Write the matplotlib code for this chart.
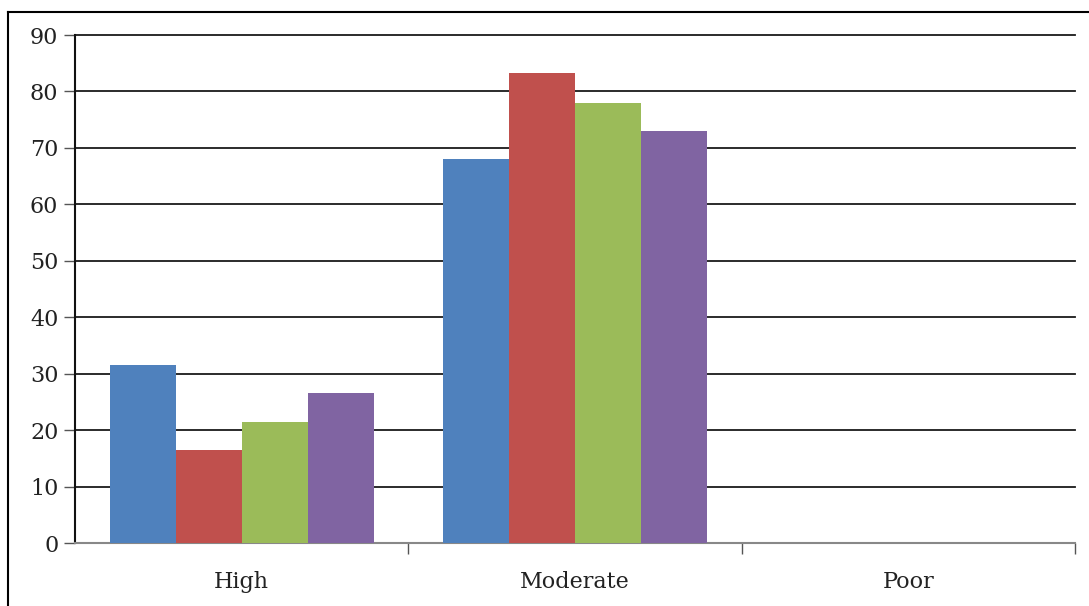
import numpy as np
import matplotlib.pyplot as plt
from matplotlib.lines import Line2D

categories = ['High', 'Moderate', 'Poor']
series_1 = [31.5, 68.0, 0]
series_2 = [16.5, 83.2, 0]
series_3 = [21.5, 78.0, 0]
series_4 = [26.5, 73.0, 0]
y_ticks = [0, 10, 20, 30, 40, 50, 60, 70, 80, 90]

colors = ['#4F81BD', '#C0504D', '#9BBB59', '#8064A2']

plt.rcParams['font.family'] = ['DejaVu Serif']

fig = plt.figure(figsize=(10.89, 6.06), dpi=100)
ax = fig.add_axes([75 / 1089, 1 - 543 / 606, 1000 / 1089, 508 / 606])

x = np.arange(len(categories))
width = 0.198
for i, vals in enumerate([series_1, series_2, series_3, series_4]):
    ax.bar(x + (i - 1.5) * width, vals, width, color=colors[i], zorder=3)

ax.set_xlim(-0.5, 2.5)
ax.set_ylim(0, 90)
ax.set_yticks(y_ticks)
ax.yaxis.grid(True, color='#1a1a1a', linewidth=1.3, zorder=0)
ax.set_axisbelow(True)
for gl in ax.get_ygridlines():
    gl.set_clip_on(False)

ax.set_xticks(x)
ax.set_xticklabels(categories)
ax.set_xticks([0.5, 1.5, 2.5], minor=True)
ax.tick_params(axis='x', which='major', length=0, pad=20, labelsize=16, labelcolor='#222222')
ax.tick_params(axis='x', which='minor', length=8, width=1, color='#555555', direction='out')
ax.tick_params(axis='y', length=8, width=1, color='#555555', pad=4, labelsize=16, labelcolor='#222222')

for s in ['top', 'right']:
    ax.spines[s].set_visible(False)
ax.spines['left'].set_color('#111111')
ax.spines['left'].set_linewidth(1.5)
ax.spines['bottom'].set_color('#888888')
ax.spines['bottom'].set_linewidth(1.5)

# outer frame (only top and left visible)
fig.add_artist(Line2D([8 / 1089, 8 / 1089], [0, 1 - 12 / 606], transform=fig.transFigure, color='black', linewidth=1.5))
fig.add_artist(Line2D([8 / 1089, 1], [1 - 12 / 606, 1 - 12 / 606], transform=fig.transFigure, color='black', linewidth=1.5))

fig.savefig('out.png', dpi=100)
